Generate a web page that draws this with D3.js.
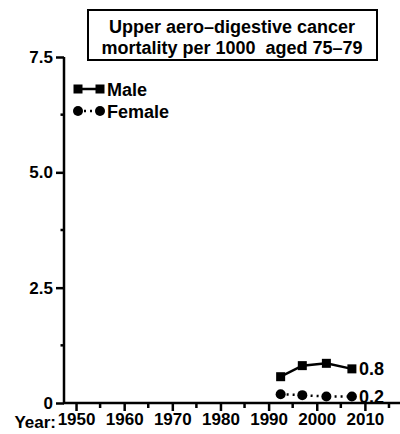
<!DOCTYPE html>
<html><head><meta charset="utf-8">
<script src="https://cdn.jsdelivr.net/npm/d3@7"></script>
<style>
html,body{margin:0;padding:0;background:#fff;}
svg{display:block;}
svg text{font-family:"Liberation Sans",Arial,Helvetica,sans-serif;font-weight:bold;fill:#000;white-space:pre;}
</style></head>
<body>
<svg id="c" width="400" height="434"></svg>
<script>
const titleLines = ["Upper aero\u2013digestive cancer", "mortality per 1000  aged 75\u201379"];
const years = [1992.5, 1997, 2002, 2007.3];
const maleValues = [0.57, 0.81, 0.86, 0.74];
const femaleValues = [0.19, 0.17, 0.14, 0.14];
const endLabels = ["0.8", "0.2"];
const seriesNames = ["Male", "Female"];
const yTicks = [0, 2.5, 5, 7.5];
const yTickLabels = ["0", "2.5", "5.0", "7.5"];
const yMinorTicks = [1.25, 3.75, 6.25];
const xTicks = [1950, 1960, 1970, 1980, 1990, 2000, 2010];
const xMinorTicks = [1955, 1965, 1975, 1985, 1995, 2005, 2015];
const xAxisTitle = "Year:";

const svg = d3.select("#c");
const x = d3.scaleLinear().domain([1947.5, 2017.5]).range([64, 401]);
const y = d3.scaleLinear().domain([0, 7.5]).range([403, 57]);

// Title box
svg.append("rect").attr("x", 88).attr("y", 10).attr("width", 289).attr("height", 50)
  .attr("fill", "none").attr("stroke", "#000").attr("stroke-width", 2);
svg.selectAll("text.title").data(titleLines).join("text").attr("class", "title")
  .attr("x", 232).attr("y", (d, i) => 33 + i * 20.5).attr("text-anchor", "middle")
  .attr("font-size", 18).text(d => d);

// Y axis
const yAxis = svg.append("g").attr("transform", "translate(64,0)")
  .call(d3.axisLeft(y).tickValues(yTicks).tickFormat((d, i) => yTickLabels[i]).tickSize(8).tickPadding(3));
yAxis.attr("font-family", null).attr("font-size", null);
yAxis.select(".domain").attr("d", `M0,${y(7.5)}V${y(0)}`).attr("stroke-width", 2.5);
yAxis.selectAll(".tick line").attr("stroke-width", 2.5);
yAxis.selectAll(".tick text").attr("font-size", 17).attr("dy", "0.33em");
svg.append("g").selectAll("line").data(yMinorTicks).join("line")
  .attr("x1", 64).attr("x2", 60.5).attr("y1", d => y(d)).attr("y2", d => y(d))
  .attr("stroke", "#000").attr("stroke-width", 2.5);

// X axis
const xAxis = svg.append("g").attr("transform", "translate(0,403)")
  .call(d3.axisBottom(x).tickValues(xTicks).tickFormat(d3.format("d")).tickSize(8).tickPadding(2));
xAxis.attr("font-family", null).attr("font-size", null);
xAxis.select(".domain").attr("d", `M${x(1947.5) - 1},0H400`).attr("stroke-width", 2.5);
xAxis.selectAll(".tick line").attr("stroke-width", 2.5);
xAxis.selectAll(".tick text").attr("font-size", 17);
svg.append("g").selectAll("line").data(xMinorTicks).join("line")
  .attr("x1", d => x(d)).attr("x2", d => x(d)).attr("y1", 403).attr("y2", 408)
  .attr("stroke", "#000").attr("stroke-width", 2.5);
svg.append("text").attr("x", 56).attr("y", 428).attr("text-anchor", "end").attr("font-size", 17).text(xAxisTitle);

// Series
const male = years.map((d, i) => ({ x: d, y: maleValues[i] }));
const female = years.map((d, i) => ({ x: d, y: femaleValues[i] }));
const line = d3.line().x(d => x(d.x)).y(d => y(d.y));

svg.append("path").datum(male).attr("d", line).attr("fill", "none").attr("stroke", "#000").attr("stroke-width", 2.5);
svg.selectAll("rect.m").data(male).join("rect").attr("class", "m")
  .attr("x", d => x(d.x) - 4.5).attr("y", d => y(d.y) - 4.5).attr("width", 9).attr("height", 9).attr("fill", "#000");

svg.append("path").datum(female).attr("d", line).attr("fill", "none").attr("stroke", "#000")
  .attr("stroke-width", 2.5).attr("stroke-dasharray", "2,4");
svg.selectAll("circle.f").data(female).join("circle").attr("class", "f")
  .attr("cx", d => x(d.x)).attr("cy", d => y(d.y)).attr("r", 5).attr("fill", "#000");

// End labels
const lastM = male[male.length - 1], lastF = female[female.length - 1];
svg.append("text").attr("x", x(lastM.x) + 7).attr("y", y(lastM.y)).attr("dy", "0.36em").attr("font-size", 18).text(endLabels[0]);
svg.append("text").attr("x", x(lastF.x) + 7).attr("y", y(lastF.y)).attr("dy", "0.36em").attr("font-size", 18).text(endLabels[1]);

// Legend
const lg = svg.append("g");
lg.append("line").attr("x1", 78).attr("x2", 100).attr("y1", 89).attr("y2", 89).attr("stroke", "#000").attr("stroke-width", 2.5);
[78, 100].forEach(cx => lg.append("rect").attr("x", cx - 4.5).attr("y", 84.5).attr("width", 9).attr("height", 9).attr("fill", "#000"));
lg.append("line").attr("x1", 78).attr("x2", 100).attr("y1", 111).attr("y2", 111).attr("stroke", "#000").attr("stroke-width", 2.5).attr("stroke-dasharray", "2,4");
[78, 100].forEach(cx => lg.append("circle").attr("cx", cx).attr("cy", 111).attr("r", 5).attr("fill", "#000"));
lg.selectAll("text").data(seriesNames).join("text").attr("x", 107).attr("y", (d, i) => 90 + i * 22)
  .attr("dy", "0.36em").attr("font-size", 18).text(d => d);
</script>
</body></html>
